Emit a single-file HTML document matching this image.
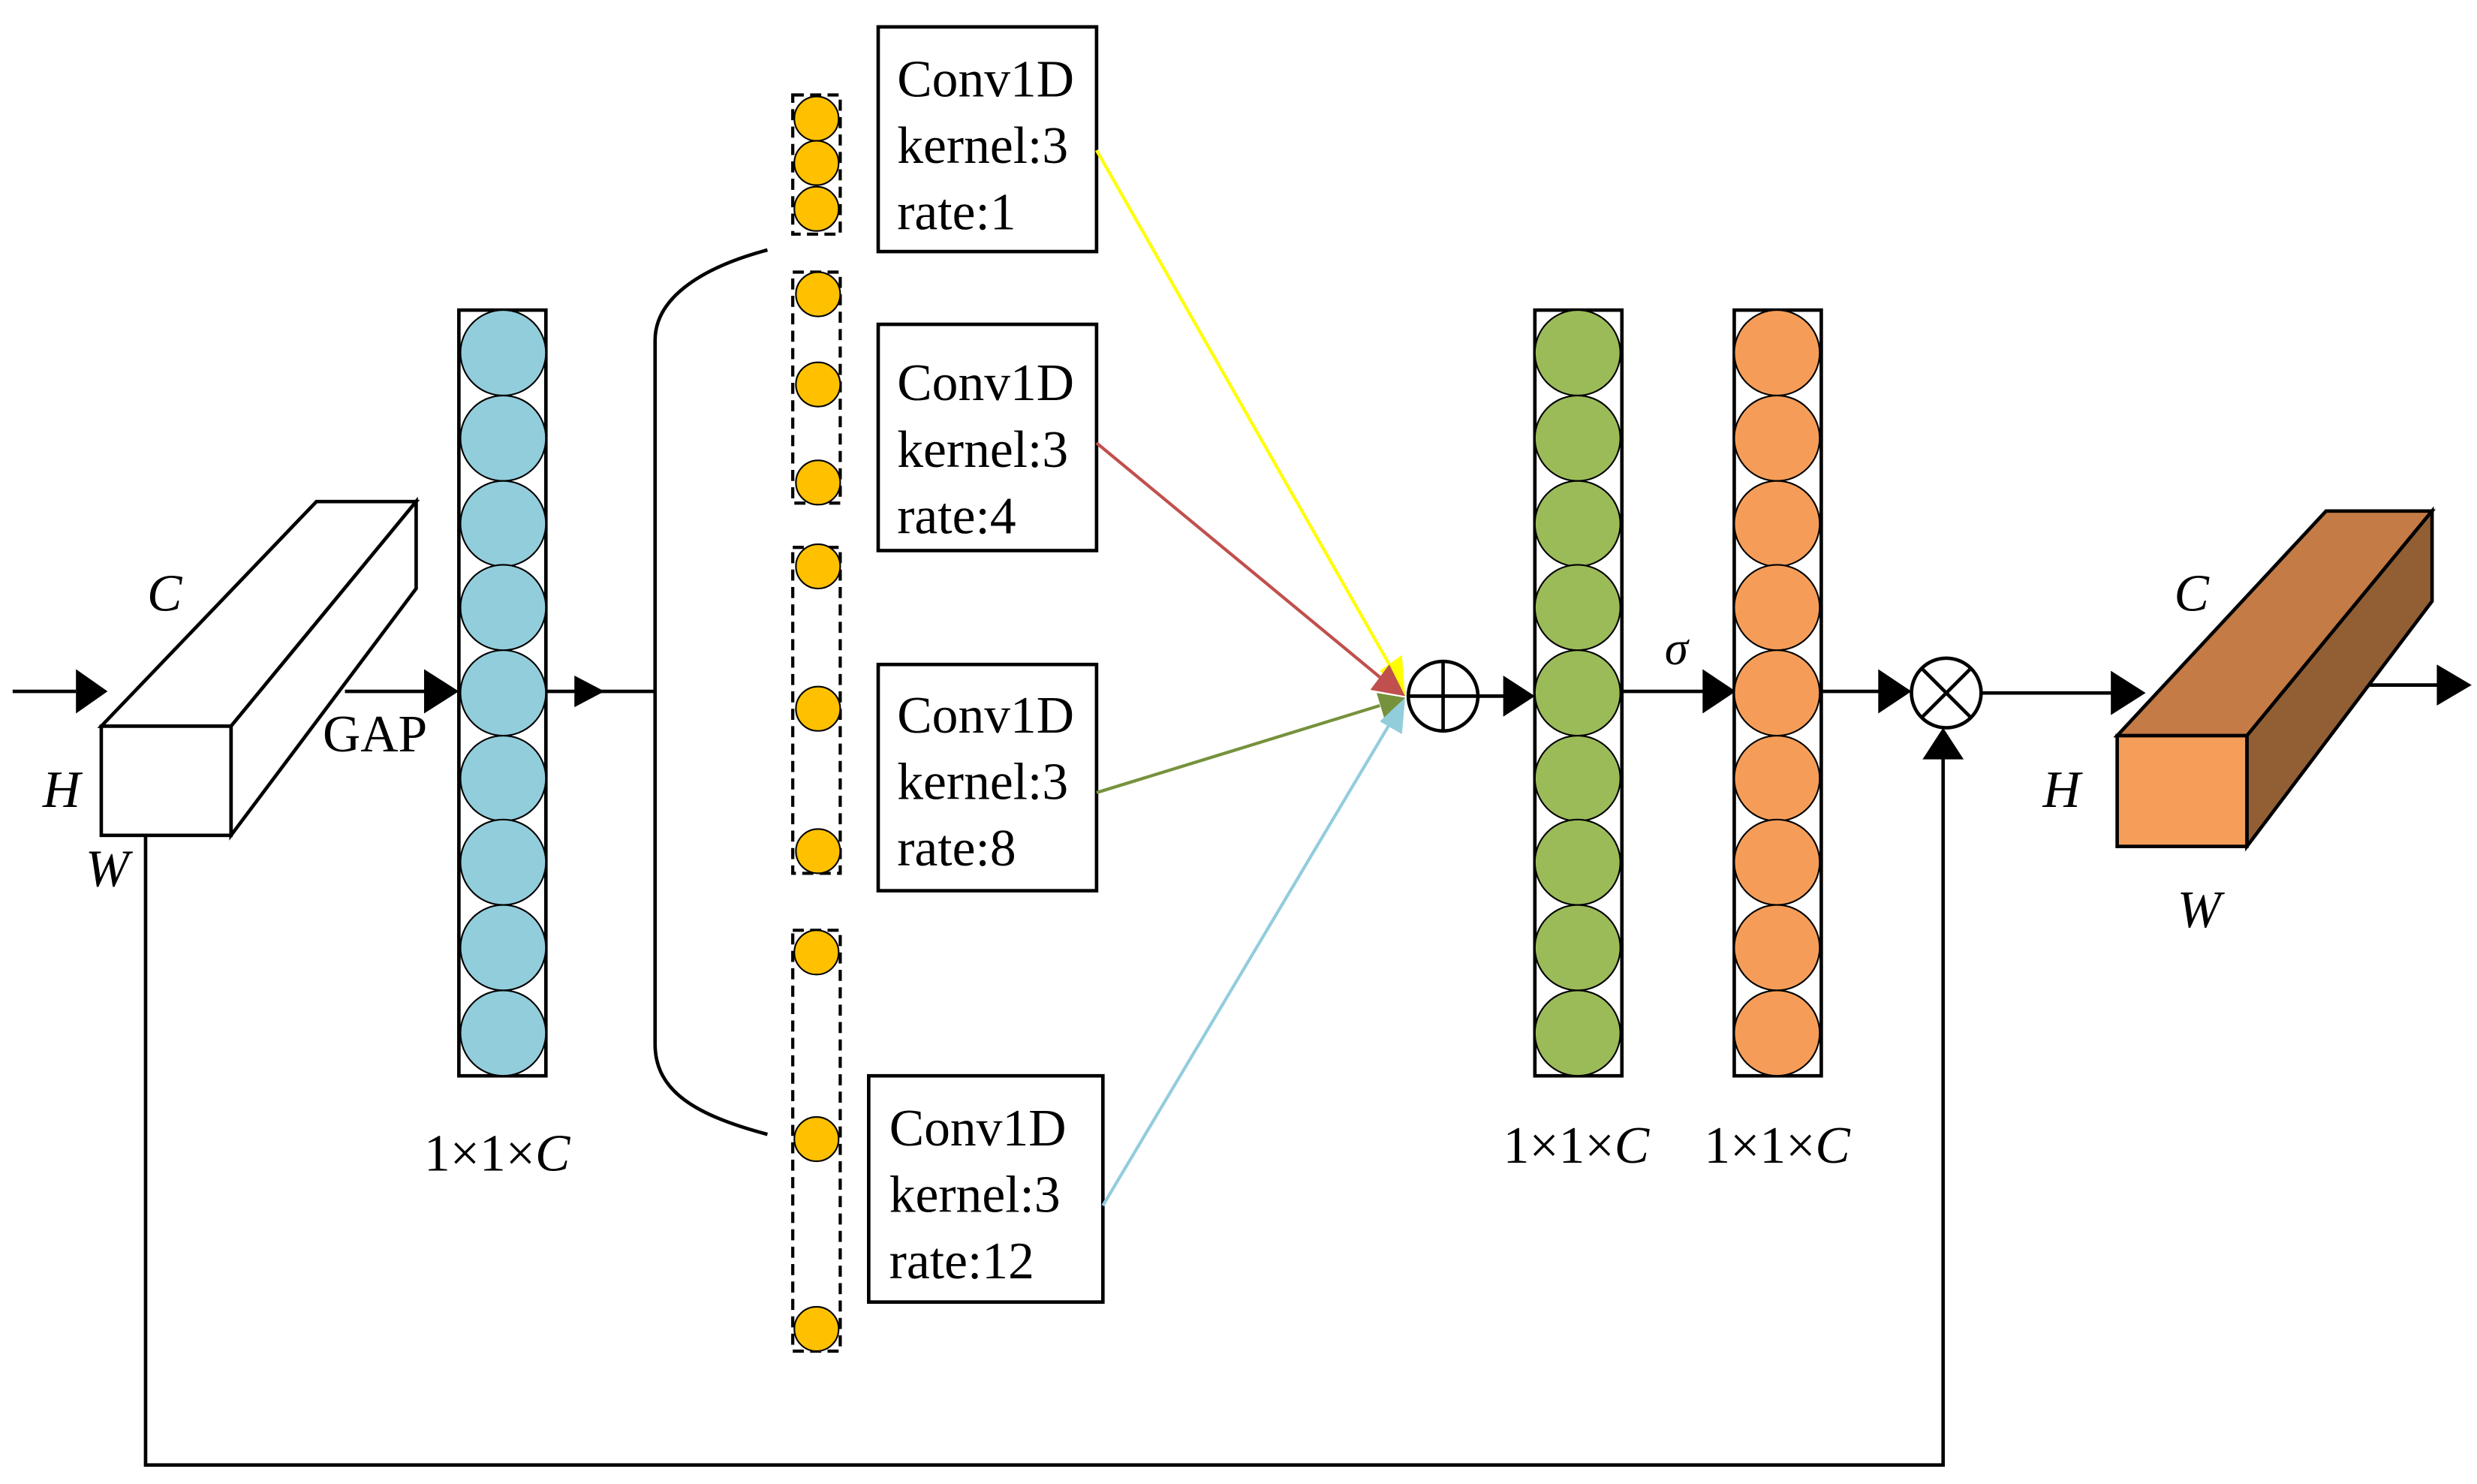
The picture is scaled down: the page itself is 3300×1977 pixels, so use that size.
<!DOCTYPE html>
<html><head><meta charset="utf-8"><style>html,body{margin:0;padding:0;background:#fff}svg{display:block}text{font-family:"Liberation Serif","DejaVu Serif",serif}</style></head><body>
<svg width="3300" height="1977" viewBox="0 0 1565.4 938" preserveAspectRatio="none" xmlns="http://www.w3.org/2000/svg">
<g stroke="#000" stroke-width="2.2" fill="none">
<line x1="8" y1="437" x2="48" y2="437"/>
<path d="M48,423L68,437L48,451z" fill="#000" stroke="none"/>
<path d="M64,459L200,317L263,317L146,459z" fill="#fff"/>
<path d="M263,317L263,372L146,528L146,459z" fill="#fff"/>
<rect x="64" y="459" width="82" height="69" fill="#fff"/>
<line x1="218" y1="437" x2="272" y2="437"/>
<path d="M268,423L290,437L268,451z" fill="#000" stroke="none"/>
<rect x="290" y="196" width="55" height="484"/>
<line x1="345" y1="437" x2="414" y2="437"/>
<path d="M363,427L382,437L363,447z" fill="#000" stroke="none"/>
<path d="M485,158 C440,170 414,190 414,215 L414,660 C414,690 440,705 485,717"/>
<circle cx="912" cy="440" r="22"/>
<line x1="890" y1="440" x2="934" y2="440"/><line x1="912" y1="418" x2="912" y2="462"/>
<line x1="934" y1="440" x2="955" y2="440"/>
<path d="M950,427L970,440L950,453z" fill="#000" stroke="none"/>
<rect x="970" y="196" width="55" height="484"/>
<line x1="1025" y1="437" x2="1080" y2="437"/>
<path d="M1076,423L1097,437L1076,451z" fill="#000" stroke="none"/>
<rect x="1096" y="196" width="55" height="484"/>
<line x1="1151" y1="437" x2="1190" y2="437"/>
<path d="M1187,423L1208,437L1187,451z" fill="#000" stroke="none"/>
<circle cx="1230" cy="438" r="22"/>
<line x1="1214" y1="422" x2="1246" y2="454"/><line x1="1246" y1="422" x2="1214" y2="454"/>
<line x1="1252" y1="438" x2="1338" y2="438"/>
<path d="M1334,424L1356,438L1334,452z" fill="#000" stroke="none"/>
<polyline points="92,528 92,926 1228,926 1228,478"/>
<path d="M1215,480L1228,460L1241,480z" fill="#000" stroke="none"/>
<path d="M1338,465L1470,323L1537,323L1420,465z" fill="#c47b45"/>
<path d="M1537,323L1537,380L1420,535L1420,465z" fill="#925f35"/>
<rect x="1338" y="465" width="82" height="70" fill="#f49e5a"/>
<line x1="1497" y1="433" x2="1545" y2="433"/>
<path d="M1540,420L1562,433L1540,446z" fill="#000" stroke="none"/>
<rect x="555" y="17" width="138" height="142" fill="#fff"/>
<rect x="555" y="205" width="138" height="143" fill="#fff"/>
<rect x="555" y="420" width="138" height="143" fill="#fff"/>
<rect x="549" y="680" width="148" height="143" fill="#fff"/>
</g>
<g fill="#92cddc" stroke="#000" stroke-width="1">
<circle cx="318" cy="223" r="27"/><circle cx="318" cy="277" r="27"/><circle cx="318" cy="331" r="27"/><circle cx="318" cy="384" r="27"/><circle cx="318" cy="438" r="27"/><circle cx="318" cy="492" r="27"/><circle cx="318" cy="545" r="27"/><circle cx="318" cy="599" r="27"/><circle cx="318" cy="653" r="27"/>
</g>
<g fill="#9bbb59" stroke="#000" stroke-width="1">
<circle cx="997" cy="223" r="27"/><circle cx="997" cy="277" r="27"/><circle cx="997" cy="331" r="27"/><circle cx="997" cy="384" r="27"/><circle cx="997" cy="438" r="27"/><circle cx="997" cy="492" r="27"/><circle cx="997" cy="545" r="27"/><circle cx="997" cy="599" r="27"/><circle cx="997" cy="653" r="27"/>
</g>
<g fill="#f59d58" stroke="#000" stroke-width="1">
<circle cx="1123" cy="223" r="27"/><circle cx="1123" cy="277" r="27"/><circle cx="1123" cy="331" r="27"/><circle cx="1123" cy="384" r="27"/><circle cx="1123" cy="438" r="27"/><circle cx="1123" cy="492" r="27"/><circle cx="1123" cy="545" r="27"/><circle cx="1123" cy="599" r="27"/><circle cx="1123" cy="653" r="27"/>
</g>
<g fill="none" stroke="#000" stroke-width="2" stroke-dasharray="7,4">
<rect x="501" y="60" width="30" height="88"/>
<rect x="501" y="172" width="30" height="146"/>
<rect x="501" y="346" width="30" height="206"/>
<rect x="501" y="588" width="30" height="266"/>
</g>
<g fill="#ffc000" stroke="#000" stroke-width="1">
<circle cx="516" cy="75" r="14"/><circle cx="516" cy="103" r="14"/><circle cx="516" cy="132" r="14"/>
<circle cx="517" cy="186" r="14"/><circle cx="517" cy="243" r="14"/><circle cx="517" cy="305" r="14"/>
<circle cx="517" cy="358" r="14"/><circle cx="517" cy="448" r="14"/><circle cx="517" cy="538" r="14"/>
<circle cx="516" cy="602" r="14"/><circle cx="516" cy="720" r="14"/><circle cx="516" cy="840" r="14"/>
</g>
<g stroke-width="2">
<line x1="693" y1="95" x2="878" y2="420" stroke="#ffff00"/>
<path d="M872,424L888,440L886,414z" fill="#ffff00"/>
<line x1="693" y1="280" x2="872" y2="428" stroke="#c0504d"/>
<path d="M866,436L888,440L878,420z" fill="#c0504d"/>
<line x1="693" y1="501" x2="872" y2="446" stroke="#76923c"/>
<path d="M870,438L888,441L876,458z" fill="#76923c"/>
<line x1="697" y1="762" x2="878" y2="458" stroke="#92cddc"/>
<path d="M872,456L888,441L886,464z" fill="#92cddc"/>
</g>
<g font-size="33" fill="#000">
<text x="567" y="61">Conv1D</text><text x="567" y="103">kernel:3</text><text x="567" y="145">rate:1</text>
<text x="567" y="253">Conv1D</text><text x="567" y="295">kernel:3</text><text x="567" y="337">rate:4</text>
<text x="567" y="463">Conv1D</text><text x="567" y="505">kernel:3</text><text x="567" y="547">rate:8</text>
<text x="562" y="724">Conv1D</text><text x="562" y="766">kernel:3</text><text x="562" y="808">rate:12</text>
<text x="204" y="475">GAP</text>
<text x="268" y="740">1×1×<tspan font-style="italic">C</tspan></text>
<text x="950" y="735">1×1×<tspan font-style="italic">C</tspan></text>
<text x="1077" y="735">1×1×<tspan font-style="italic">C</tspan></text>
<g font-style="italic">
<text x="93" y="386">C</text><text x="27" y="510">H</text><text x="54" y="560">W</text>
<text x="1374" y="386">C</text><text x="1291" y="510">H</text><text x="1376" y="586">W</text>
<text x="1052" y="420" font-size="30">σ</text>
</g>
</g>
</svg>
</body></html>
